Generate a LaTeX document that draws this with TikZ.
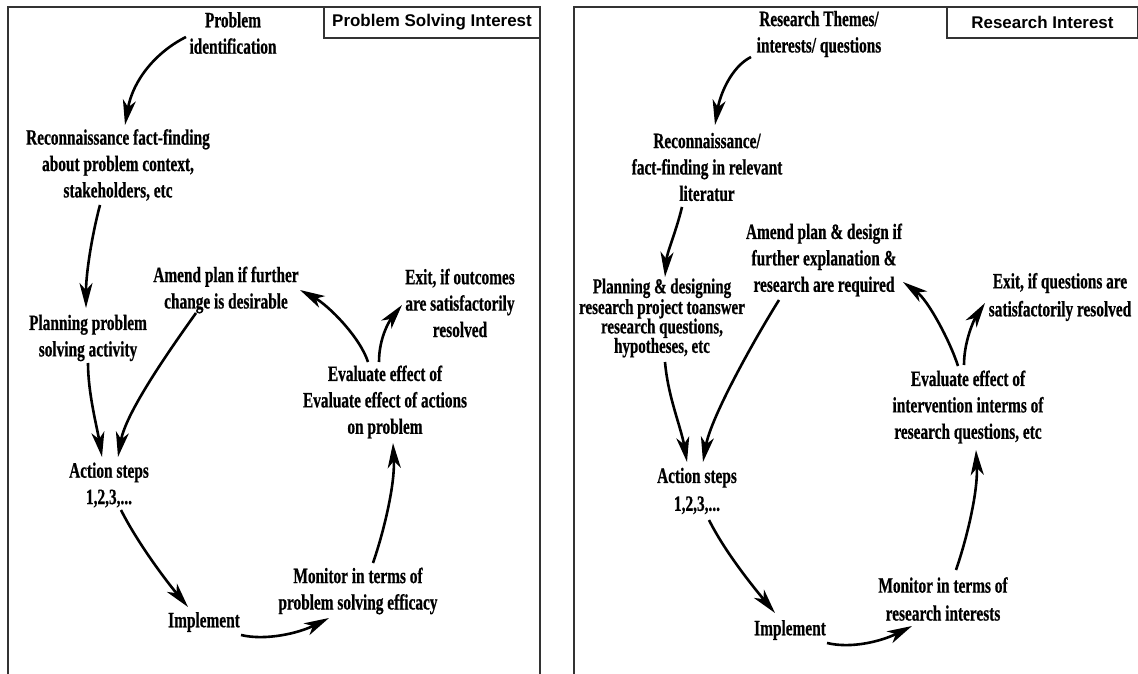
\documentclass[tikz,border=0pt]{standalone}
\usepackage{fontspec}
\newfontfamily\labfont[FakeStretch=0.70,FakeBold=0.6]{Liberation Serif}
\newfontfamily\ttlfont{Liberation Sans}
\usetikzlibrary{arrows.meta,calc}
\begin{document}
\begin{tikzpicture}[x=1bp,y=-1bp,
  lbl/.style={font=\labfont\bfseries\fontsize{22}{26.5}\selectfont, align=center, inner sep=1bp, text=black},
  tightlbl/.style={lbl, font=\labfont\bfseries\fontsize{21.5}{19.5}\selectfont},
  arr/.style={line width=2.6bp, black, -{Stealth[length=25bp,width=13bp,inset=7bp]}},
  frame/.style={line width=2bp, draw=black!80},
  titlebox/.style={draw=black!80, line width=1.4bp, font=\ttlfont\bfseries\fontsize{17}{20}\selectfont, inner sep=0pt, minimum height=31bp}
]
\useasboundingbox (0,0) rectangle (1138,674);
\fill[white] (0,0) rectangle (1138,674);

% ---------- panel frames ----------
\draw[frame] (8,674) -- (8,7) -- (540,7) -- (540,674);
\draw[frame] (574,674) -- (574,7) -- (1138,7);

% ---------- title boxes ----------
\node[titlebox, minimum width=216bp] (T1) at (432,22.5) {Problem Solving Interest};
\node[titlebox, minimum width=191bp] (T2) at (1042.5,22.5) {Research Interest};

% ---------- left panel ----------
\node[lbl] (PI) at (233,33) {Problem\\identification};
\node[lbl] (RC) at (118,165) {Reconnaissance fact-finding\\about problem context,\\stakeholders, etc};
\node[lbl] (PL) at (88,338) {Planning problem\\solving activity};
\node[lbl] (AM) at (226,290) {Amend plan if further\\change is desirable};
\node[lbl] (EX) at (460,303) {Exit, if outcomes\\are satisfactorily\\resolved};
\node[lbl] (EV) at (385,402) {Evaluate effect of\\Evaluate effect of actions\\on problem};
\node[lbl] (AC) at (109,485) {Action steps\\1,2,3,...};
\node[lbl] (IM) at (204,622) {Implement};
\node[lbl] (MO) at (358,591) {Monitor in terms of\\problem solving efficacy};

\draw[arr] ($(PI.center)+(-47,4)$) .. controls +(-30,15) and +(8,-45) .. ($(RC.center)+(7,-40)$);
\draw[arr] ($(RC.center)+(-18,40)$) .. controls +(-8,30) and +(0,-35) .. ($(PL.center)+(-2,-30)$);
\draw[arr] ($(PL.center)+(0,25)$) .. controls +(0,30) and +(-5,-30) .. ($(AC.center)+(-7,-28)$);
\draw[arr] ($(AM.center)+(-30,23)$) .. controls +(-25,35) and +(8,-45) .. ($(AC.center)+(9,-28)$);
\draw[arr] ($(AC.center)+(12,25)$) .. controls +(15,30) and +(-25,-30) .. ($(IM.center)+(-16,-15)$);
\draw[arr] ($(IM.center)+(37,13)$) .. controls +(25,6) and +(-30,15) .. ($(MO.center)+(-29,27)$);
\draw[arr] ($(MO.center)+(15,-28)$) .. controls +(12,-35) and +(2,40) .. ($(EV.center)+(8,41)$);
\draw[arr] ($(EV.center)+(-17,-40)$) .. controls +(-8,-25) and +(28,15) .. ($(AM.center)+(74,0)$);
\draw[arr] ($(EV.center)+(-6,-40)$) .. controls +(0,-25) and +(-12,15) .. ($(EX.center)+(-58,2)$);

% ---------- right panel ----------
\node[lbl] (RT) at (819,34) {Research Themes/\\interests/ questions};
\node[lbl] (RR) at (707,167) {Reconnaissance/\\fact-finding in relevant\\literatur};
\node[tightlbl] (RP) at (662,318) {Planning \& designing\\research project toanswer\\research questions,\\hypotheses, etc};
\node[lbl] (RA) at (824,260) {Amend plan \& design if\\further explanation \&\\research are required};
\node[lbl, font=\labfont\bfseries\fontsize{22}{28}\selectfont] (RX) at (1060,297) {Exit, if questions are\\satisfactorily resolved};
\node[lbl] (RE) at (968,407) {Evaluate effect of\\intervention interms of\\research questions, etc};
\node[lbl, font=\labfont\bfseries\fontsize{22}{28}\selectfont] (RAC) at (697,491) {Action steps\\1,2,3,...};
\node[lbl] (RI) at (790,630) {Implement};
\node[lbl, font=\labfont\bfseries\fontsize{22}{28}\selectfont] (RM) at (943,599) {Monitor in terms of\\research interests};

\draw[arr] ($(RT.center)+(-68,23)$) .. controls +(-20,10) and +(5,-30) .. ($(RR.center)+(8,-42)$);
\draw[arr] ($(RR.center)+(-25,40)$) .. controls +(-6,25) and +(2,-25) .. ($(RP.center)+(3,-41)$);
\draw[arr] ($(RP.center)+(3,44)$) .. controls +(3,35) and +(-6,-35) .. ($(RAC.center)+(-10,-29)$);
\draw[arr] ($(RA.center)+(-45,40)$) .. controls +(-25,40) and +(8,-45) .. ($(RAC.center)+(6,-29)$);
\draw[arr] ($(RAC.center)+(12,29)$) .. controls +(15,30) and +(-25,-30) .. ($(RI.center)+(-15,-17)$);
\draw[arr] ($(RI.center)+(37,13)$) .. controls +(25,6) and +(-30,15) .. ($(RM.center)+(-31,27)$);
\draw[arr] ($(RM.center)+(13,-29)$) .. controls +(12,-35) and +(2,40) .. ($(RE.center)+(8,43)$);
\draw[arr] ($(RE.center)+(-10,-41)$) .. controls +(-8,-25) and +(25,18) .. ($(RA.center)+(79,22)$);
\draw[arr] ($(RE.center)+(-4,-42)$) .. controls +(0,-25) and +(-10,15) .. ($(RX.center)+(-75,6)$);
\end{tikzpicture}
\end{document}
